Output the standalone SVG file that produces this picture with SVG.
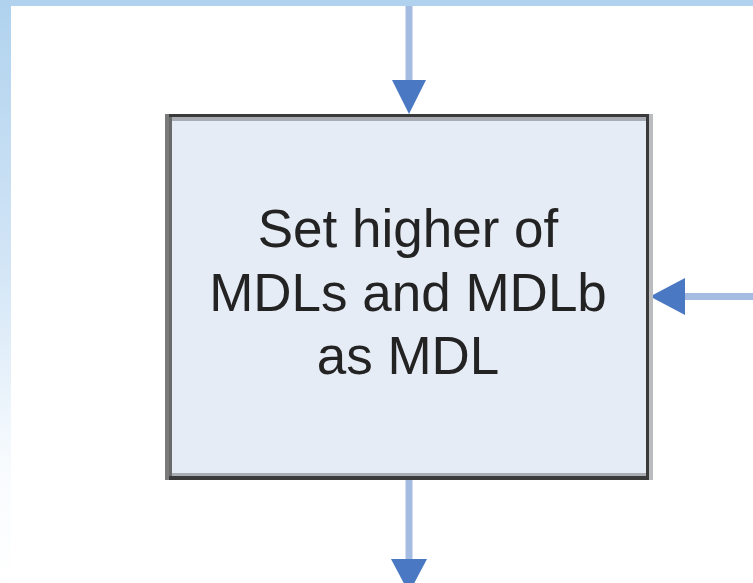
<svg xmlns="http://www.w3.org/2000/svg" width="753" height="583" viewBox="0 0 753 583">
  <defs>
    <linearGradient id="sideFade" x1="0" y1="0" x2="0" y2="1">
      <stop offset="0" stop-color="#b0d2ee"/>
      <stop offset="0.45" stop-color="#d2e5f6"/>
      <stop offset="0.8" stop-color="#f8fbfe"/>
      <stop offset="1" stop-color="#ffffff"/>
    </linearGradient>
    <style>
      .flow { stroke: #a4bce1; stroke-width: 7; fill: none; }
      .head { fill: #4a78c2; }
      .label { font-family: "Liberation Sans", Arial, sans-serif; font-size: 53px; fill: #232323; text-anchor: middle; }
    </style>
  </defs>

  <!-- page background and frame -->
  <rect x="0" y="0" width="753" height="583" fill="#ffffff"/>
  <rect x="0" y="0" width="11" height="583" fill="url(#sideFade)"/>
  <rect x="0" y="0" width="753" height="6" fill="#b0d2ee"/>

  <!-- connectors -->
  <g id="connectors">
    <line class="flow" x1="409" y1="6" x2="409" y2="82"/>
    <polygon class="head" points="392,80 426,80 409,114"/>
    <line class="flow" x1="753" y1="296.5" x2="683" y2="296.5"/>
    <polygon class="head" points="685,278 685,315 650,296.5"/>
    <line class="flow" x1="409" y1="480" x2="409" y2="561"/>
    <polygon class="head" points="391,559 427,559 409,593"/>
  </g>

  <!-- process step -->
  <g id="node-set-mdl">
    <rect x="169" y="117" width="480" height="359" fill="#e6ecf6"/>
    <rect x="169" y="117" width="477" height="4" fill="#a9acb2"/>
    <rect x="169" y="473" width="477" height="3" fill="#a9acb2"/>
    <rect x="649" y="114" width="4" height="366" fill="#bbbcbf"/>
    <rect x="169" y="114" width="480" height="3" fill="#3a3a3a"/>
    <rect x="169" y="476" width="480" height="4" fill="#3a3a3a"/>
    <rect x="646" y="114" width="3" height="366" fill="#3a3a3a"/>
    <rect x="165" y="114" width="4" height="366" fill="#7a7a7a"/>
    <rect x="169" y="117" width="3" height="359" fill="#6a6a6a"/>
    <text class="label" x="408" y="247">Set higher of</text>
    <text class="label" x="408" y="310.5">MDLs and MDLb</text>
    <text class="label" x="408" y="374">as MDL</text>
  </g>
</svg>
